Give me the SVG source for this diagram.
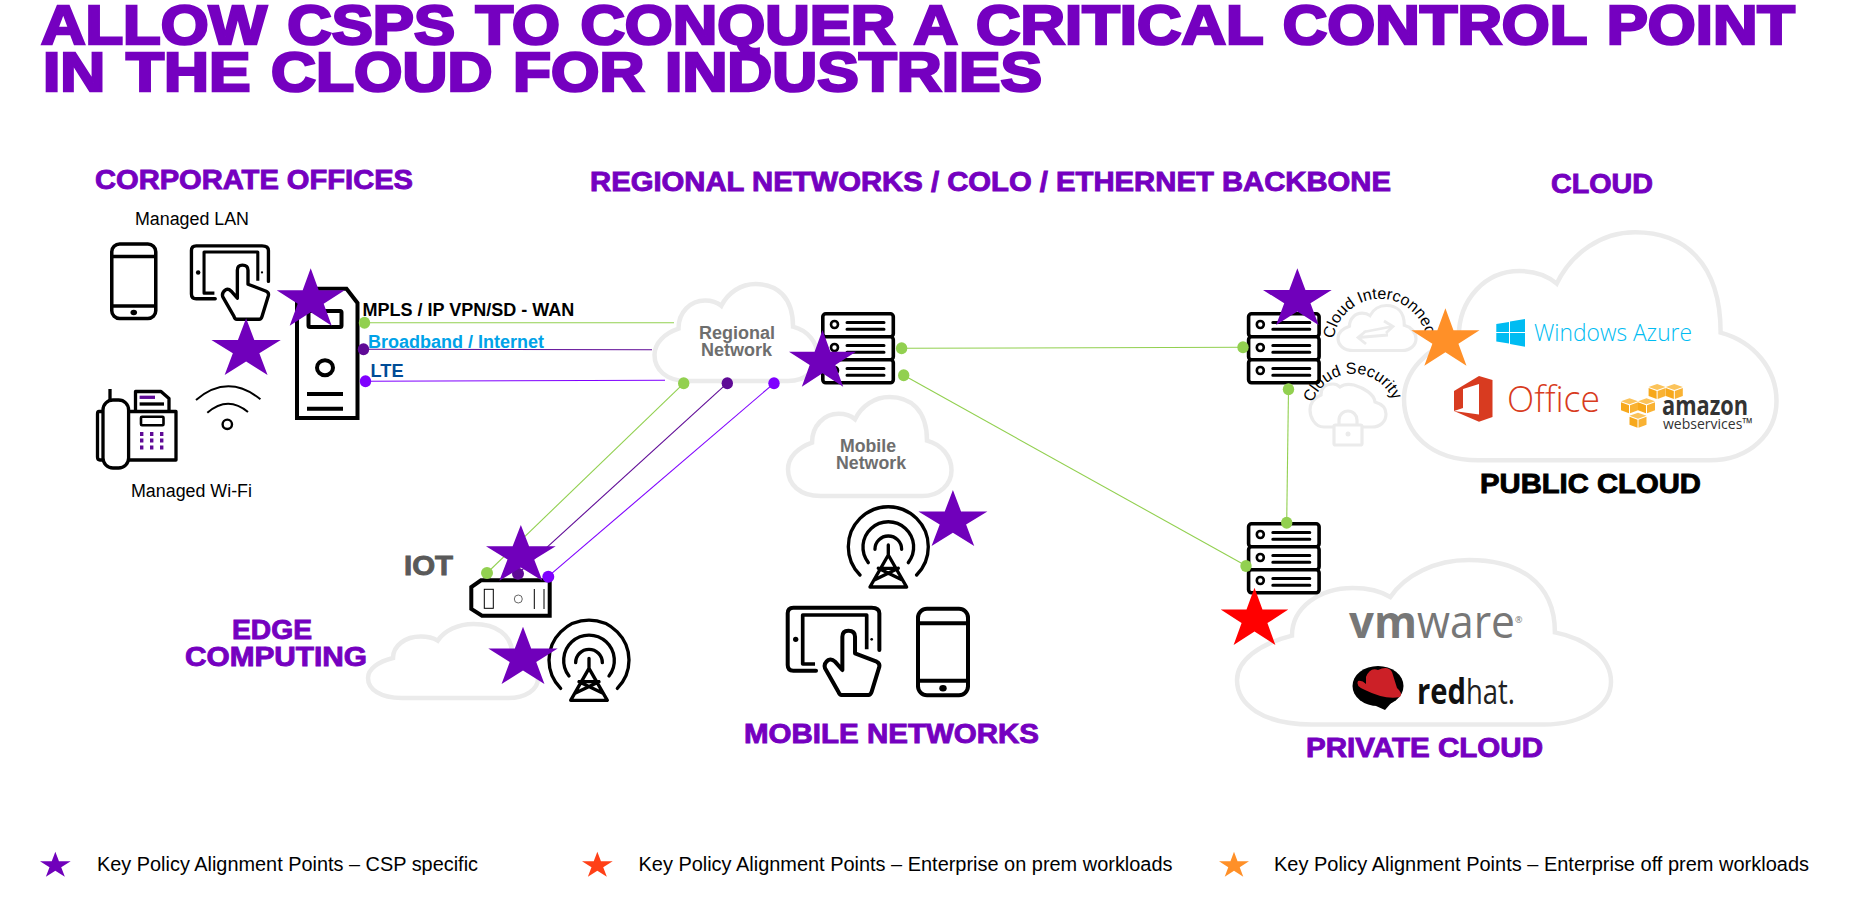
<svg xmlns="http://www.w3.org/2000/svg" width="1876" height="901" viewBox="0 0 1876 901">
<style>
text{font-family:"Liberation Sans",Arial,sans-serif}
.t{font-weight:bold;font-size:55px;fill:#7500c0;stroke:#7500c0;stroke-width:2.6;word-spacing:3px}
.h{font-weight:bold;font-size:27px;fill:#7500c0;stroke:#7500c0;stroke-width:.9}
.k{fill:#000;stroke:#000}
.n{font-size:18px;fill:#000}
.b{font-weight:bold;font-size:18px}
.g{font-weight:bold;font-size:18px;fill:#6e6e6e}
.l{font-size:19.5px;fill:#000}
.c{font-size:16px;fill:#000}
.cl{fill:none;stroke:#ebebeb;stroke-width:4.5}
.cs{fill:none;stroke:#ebebeb;stroke-width:3.2}
.dot-g{fill:#92d050}.dot-d{fill:#5f0a96}.dot-v{fill:#7f00ff}
.ln-g{stroke:#92d050;stroke-width:1.1;fill:none}.ln-d{stroke:#5f0a96;stroke-width:1.1;fill:none}.ln-v{stroke:#7f00ff;stroke-width:1.1;fill:none}
.s-p{fill:#7000bb}.s-r{fill:#ff0000}.s-o{fill:#ff9028}
.logo{font-family:"Open Sans","Liberation Sans",sans-serif}
.thin{font-weight:300}
</style>
<defs>
<polygon id="star" points="50,0 61.8,38.2 100,38.2 69.1,61.8 80.9,100 50,76.4 19.1,100 30.9,61.8 0,38.2 38.2,38.2"/>
<path id="cloud" vector-effect="non-scaling-stroke" d="M200 1000C70 1000 0 880 0 730C0 610 60 510 147 460C147 290 220 170 310 170C350 170 385 190 410 225C450 90 530 0 620 0C750 0 850 130 850 440C940 480 1000 600 1000 740C1000 880 930 1000 820 1000Z"/>
<g id="srv">
<rect x="1.8" y="1.8" width="70.5" height="23" rx="3" fill="#fff" stroke="#000" stroke-width="3.6"/>
<rect x="1.8" y="24.8" width="70.5" height="23" rx="3" fill="#fff" stroke="#000" stroke-width="3.6"/>
<rect x="1.8" y="47.8" width="70.5" height="23" rx="3" fill="#fff" stroke="#000" stroke-width="3.6"/>
<g fill="#fff" stroke="#000" stroke-width="2.6"><circle cx="13.5" cy="12.5" r="3.5"/><circle cx="13.5" cy="35.5" r="3.5"/><circle cx="13.5" cy="58.5" r="3.5"/></g>
<path d="M26 10.5H63M26 17.3H63M26 33.5H63M26 40.3H63M26 56.5H63M26 63.3H63" stroke="#000" stroke-width="3" stroke-linecap="round" fill="none"/>
</g>
<g id="phone">
<rect x="2" y="2" width="50" height="86.6" rx="9" fill="#fff" stroke="#000" stroke-width="4"/>
<path d="M2 16.5H52M2 74H52" stroke="#000" stroke-width="4"/>
<ellipse cx="27" cy="81.5" rx="3.7" ry="3.2"/>
</g>
<g id="tablet" fill="none" stroke="#000" stroke-width="12" stroke-linecap="round" stroke-linejoin="round">
<path d="M278 130V20Q278 3 255 3H20Q3 3 3 20V175Q3 192 20 192H88"/>
<path d="M240 128V25H48V172H85" stroke-linecap="butt" stroke-width="11"/>
<circle cx="27" cy="98" r="8" fill="#000" stroke="none"/>
<circle cx="255" cy="98" r="4" fill="#000" stroke="none"/>
<path d="M167 190V90Q167 72 185 72Q205 72 205 90V140L270 165Q280 170 278 180L255 255Q252 265 245 265H165Q158 265 155 255L115 185Q110 170 125 160Q135 155 145 165Z" fill="#fff"/>
</g>
<g id="tower" fill="none" stroke="#000" stroke-width="10" stroke-linecap="round" stroke-linejoin="round" transform="scale(.3333)">
<path d="M-85 80A120 120 0 1 1 85 80"/>
<path d="M-60 43A76 76 0 1 1 60 43"/>
<path d="M-40 3A40 40 0 1 1 40 3"/>
<path d="M0-10V20M-55 116L0 20L55 116ZM-30 60H30M-42 95L30 60M42 95L-30 60"/>
</g>
<g id="cube"><polygon points="8.5,0 17,3 8.5,6 0,3" fill="#fbc35a"/><polygon points="0,4 8,7 8,15 0,12" fill="#f7a81b"/><polygon points="9,7 17,4 17,12 9,15" fill="#f9b233"/></g>
</defs>
<rect width="1876" height="901" fill="#fff"/>

<g id="titles">
<text class="t" x="41" y="43.7" textLength="1754" lengthAdjust="spacingAndGlyphs">ALLOW CSPS TO CONQUER A CRITICAL CONTROL POINT</text>
<text class="t" x="43" y="90.7" textLength="999" lengthAdjust="spacingAndGlyphs">IN THE CLOUD FOR INDUSTRIES</text>
<text class="h" x="95" y="188.7" textLength="318" lengthAdjust="spacingAndGlyphs">CORPORATE OFFICES</text>
<text class="h" x="590" y="190.7" textLength="801" lengthAdjust="spacingAndGlyphs">REGIONAL NETWORKS / COLO / ETHERNET BACKBONE</text>
<text class="h" x="1551" y="193" textLength="102" lengthAdjust="spacingAndGlyphs">CLOUD</text>
<text class="h k" x="1480" y="493.3" textLength="221" lengthAdjust="spacingAndGlyphs">PUBLIC CLOUD</text>
<text class="h" x="1306" y="756.7" textLength="237" lengthAdjust="spacingAndGlyphs">PRIVATE CLOUD</text>
<text class="h" x="744" y="743" textLength="295" lengthAdjust="spacingAndGlyphs">MOBILE NETWORKS</text>
<text class="h" x="232" y="639" textLength="80" lengthAdjust="spacingAndGlyphs">EDGE</text>
<text class="h" x="185" y="665.7" textLength="182" lengthAdjust="spacingAndGlyphs">COMPUTING</text>
</g>

<g id="connectors">
<path class="ln-g" d="M365 322.7H674"/>
<path class="ln-d" d="M363 349.3L652 349.7"/>
<path class="ln-v" d="M365 381.3L665 380.3"/>
<path class="ln-g" d="M683.7 383.3L487 573"/>
<path class="ln-d" d="M727 383.3L518 573.7"/>
<path class="ln-v" d="M774 383.3L548 576.7"/>
<path class="ln-g" d="M901.6 348.3L1243 347.3"/>
<path class="ln-g" d="M903.7 375.3L1246.5 566"/>
<path class="ln-g" d="M1288.5 389.3L1286.7 522.7"/>
</g>

<g id="cloud-regional"><use href="#cloud" class="cl" transform="translate(654.5 284) scale(.163 .097)"/>
<text class="g" x="699" y="339" textLength="76" lengthAdjust="spacingAndGlyphs">Regional</text>
<text class="g" x="701" y="356" textLength="71" lengthAdjust="spacingAndGlyphs">Network</text></g>
<g id="cloud-mobile"><use href="#cloud" class="cl" transform="translate(788 397) scale(.1635 .099)"/>
<text class="g" x="840" y="451.7" textLength="56" lengthAdjust="spacingAndGlyphs">Mobile</text>
<text class="g" x="836" y="469" textLength="70" lengthAdjust="spacingAndGlyphs">Network</text></g>
<g id="cloud-edge"><use href="#cloud" class="cl" transform="translate(368 624) scale(.17 .074)"/></g>

<g id="cloud-public"><use href="#cloud" class="cl" transform="translate(1404 232.3) scale(.3725 .228)"/>
<polygon fill="#00bcf2" points="1496.3,324 1509,322 1509,332 1496.3,332"/>
<polygon fill="#00bcf2" points="1510,321.5 1525,319 1525,332 1510,332"/>
<polygon fill="#00bcf2" points="1496.3,333 1509,333 1509,343.5 1496.3,341.5"/>
<polygon fill="#00bcf2" points="1510,333 1525,333 1525,346.7 1510,344"/>
<text class="logo thin" x="1534" y="340.7" font-size="23" fill="#00bcf2" textLength="158" lengthAdjust="spacingAndGlyphs">Windows Azure</text>
<polygon fill="#d83b20" points="1454,391 1479,376 1492.5,380 1492.5,417 1479,421.7 1454,411"/>
<polygon fill="#fff" points="1479,384 1463,389 1463,408 1454,411 1479,414.5"/>
<text class="logo thin" x="1507" y="411.7" font-size="37" fill="#d83b20" textLength="93" lengthAdjust="spacingAndGlyphs">Office</text>
<use href="#cube" x="1648.6" y="384"/><use href="#cube" x="1665.8" y="384"/><use href="#cube" x="1621" y="398.3"/><use href="#cube" x="1638" y="398.3"/><use href="#cube" x="1629.5" y="412.7"/>
<text class="logo" x="1662" y="415" font-size="27" font-weight="bold" fill="#333" textLength="86" lengthAdjust="spacingAndGlyphs">amazon</text>
<text class="logo" x="1663" y="429.3" font-size="15" fill="#333" textLength="90" lengthAdjust="spacingAndGlyphs">webservices™</text>
</g>

<g id="cloud-private"><use href="#cloud" class="cl" transform="translate(1237 560) scale(.374 .1645)"/>
<text class="logo" x="1349" y="638.3" font-size="45" font-weight="bold" fill="#777" textLength="68" lengthAdjust="spacingAndGlyphs">vm</text>
<text class="logo" x="1417" y="638.3" font-size="45" fill="#777" textLength="98" lengthAdjust="spacingAndGlyphs">ware</text>
<text class="logo" x="1515" y="623" font-size="9" fill="#777">®</text>
<ellipse cx="1378" cy="686" rx="25.5" ry="20"/>
<path d="M1372 700L1392 702L1385 710L1376 706Z"/>
<path fill="#cc2027" d="M1366 677Q1370 667 1378 670Q1388 665 1392 672L1397 688Q1403 693 1400 697Q1385 700 1365 690Q1355 686 1358 681Q1362 680 1366 684Z"/>
<text class="logo" x="1417" y="704" font-size="35" font-weight="bold" fill="#111" textLength="49" lengthAdjust="spacingAndGlyphs">red</text>
<text class="logo" x="1466" y="704" font-size="35" fill="#222" textLength="49" lengthAdjust="spacingAndGlyphs">hat.</text>
</g>

<g id="corporate-offices">
<text class="n" x="135" y="225" textLength="114" lengthAdjust="spacingAndGlyphs">Managed LAN</text>
<text class="n" x="131" y="496.7" textLength="121" lengthAdjust="spacingAndGlyphs">Managed Wi-Fi</text>
<use href="#phone" transform="translate(110 242.3) scale(.88 .86)"/>
<use href="#tablet" transform="translate(190.6 245) scale(.28)"/>
<g id="fax" fill="none" stroke="#000" stroke-width="3.3" stroke-linejoin="round">
<path d="M110 389V402"/>
<path d="M135.5 410V391.5H161L169 398.5V410"/>
<path d="M139.6 404H164"/>
<path d="M139.6 397.3H155" stroke="#5f0a96"/>
<path d="M128 411.5H176V460H128"/>
<path d="M103 411.5H99Q97.5 411.5 97.5 414V457Q97.5 460 100 460H103"/>
<rect x="103" y="400" width="25.6" height="68" rx="10" fill="#fff"/>
<rect x="141" y="416.7" width="22.5" height="8.6" rx="1" stroke-width="2.6"/>
<g fill="#5f0a96" stroke="none"><rect x="140" y="432" width="3.4" height="4"/><rect x="150" y="432" width="3.4" height="4"/><rect x="160" y="432" width="3.4" height="4"/><rect x="140" y="438.5" width="3.4" height="4"/><rect x="150" y="438.5" width="3.4" height="4"/><rect x="160" y="438.5" width="3.4" height="4"/><rect x="140" y="445.5" width="3.4" height="4"/><rect x="150" y="445.5" width="3.4" height="4"/><rect x="160" y="445.5" width="3.4" height="4"/></g>
</g>
<g id="wifi" fill="none" stroke="#000" stroke-width="2">
<path d="M196 400Q227.8 373 260.4 399.3"/>
<path d="M207.3 412.7Q227.8 395 248 412"/>
<circle cx="227.3" cy="424.3" r="4.7" stroke-width="2.4"/>
</g>
<g id="office-server" fill="none" stroke="#000" stroke-width="4">
<path d="M297 303L310 288.7H346.5L357.5 303V418H297Z" fill="#fff"/>
<rect x="308.5" y="311" width="33" height="16" rx="1.5"/>
<ellipse cx="325" cy="367.7" rx="8" ry="7.5"/>
<path d="M307 394H343M307 408.7H343"/>
</g>
</g>

<g id="wan-labels">
<text class="b" x="362.4" y="316" fill="#000" textLength="212" lengthAdjust="spacingAndGlyphs">MPLS / IP VPN/SD - WAN</text>
<text class="b" x="368" y="348" fill="#00a2e8" textLength="176" lengthAdjust="spacingAndGlyphs">Broadband / Internet</text>
<text class="b" x="370.6" y="376.7" fill="#004c97" textLength="33" lengthAdjust="spacingAndGlyphs">LTE</text>
</g>

<g id="server-regional"><use href="#srv" x="821" y="312"/></g>
<g id="server-cloud"><use href="#srv" x="1246.8" y="312"/></g>
<g id="server-private"><use href="#srv" x="1246.8" y="522"/></g>

<g id="cloud-interconnect">
<use href="#cloud" class="cs" transform="translate(1338 305.5) scale(.078 .045)"/>
<path d="M1363.5 332L1392 326.5M1384 321L1393 326.5L1386 333M1388 335L1358.5 337.5M1366 331L1358 337.5L1366 344" fill="none" stroke="#ebebeb" stroke-width="2.8"/>
<path id="arc1" d="M1333.5 339A47 47 0 0 1 1427 345" fill="none"/>
<text class="c"><textPath href="#arc1">Cloud Interconnect</textPath></text>
</g>
<g id="cloud-security">
<path class="cs" d="M1333 427H1324C1314 427 1310 416 1310 410C1310 403 1314 398 1321 395C1321 388 1325 384 1333 384C1336 384 1338 385 1340 387C1344 384 1349 384 1354 385C1364 388 1374 394 1375 402C1382 404 1386 408 1386 414C1386 422 1380 427 1372 427H1362"/>
<rect class="cs" x="1334" y="425" width="28" height="20" rx="1.5"/>
<path class="cs" d="M1339 425V420A9 9 0 0 1 1357 420V425"/>
<circle cx="1348" cy="434" r="2.5" fill="#ebebeb"/>
<path id="arc2" d="M1312.5 403A43 43 0 0 1 1396 412" fill="none"/>
<text class="c"><textPath href="#arc2">Cloud Security</textPath></text>
</g>

<g id="iot">
<text class="h" style="fill:#595959;stroke:#595959" x="404" y="575" textLength="49" lengthAdjust="spacingAndGlyphs">IOT</text>
<path d="M481 580.3H549.7V615.7H482L471.3 609V587Z" fill="#fff" stroke="#000" stroke-width="4"/>
<rect x="484.3" y="589.3" width="9" height="19" fill="none" stroke="#000" stroke-width="1"/>
<circle cx="518.3" cy="599" r="4" fill="none" stroke="#666" stroke-width="1"/>
<path d="M534.3 589V609M544 589V609" stroke="#000" stroke-width="1"/>
</g>
<g id="edge-tower"><use href="#tower" transform="translate(589 661.7)"/></g>
<g id="mobile-devices">
<use href="#tower" transform="translate(888.3 548.3)"/>
<use href="#tablet" transform="translate(786.7 606.7) scale(.3333)"/>
<use href="#phone" transform="translate(916 606.7)"/>
</g>

<g id="connector-dots">
<ellipse class="dot-g" cx="364.5" cy="322.7" rx="5.7" ry="6"/>
<ellipse class="dot-d" cx="363.5" cy="349.3" rx="5.7" ry="6"/>
<ellipse class="dot-v" cx="365.5" cy="381.3" rx="5.7" ry="6"/>
<ellipse class="dot-g" cx="683.7" cy="383.3" rx="5.7" ry="6"/>
<ellipse class="dot-d" cx="727.3" cy="383.3" rx="5.7" ry="6"/>
<ellipse class="dot-v" cx="774" cy="383.3" rx="5.7" ry="6"/>
<ellipse class="dot-g" cx="901.6" cy="348.3" rx="5.7" ry="6"/>
<ellipse class="dot-g" cx="903.7" cy="375.3" rx="5.7" ry="6"/>
<ellipse class="dot-g" cx="1243" cy="347.3" rx="5.7" ry="6"/>
<ellipse class="dot-g" cx="1288.5" cy="389.3" rx="5.7" ry="6"/>
<ellipse class="dot-g" cx="1286.7" cy="522.7" rx="5.7" ry="6"/>
<ellipse class="dot-g" cx="1246" cy="566" rx="5.7" ry="6"/>
<circle class="dot-g" cx="487" cy="573" r="6"/>
<circle class="dot-d" cx="518" cy="573.7" r="6"/>
<circle class="dot-v" cx="548.3" cy="576.7" r="6"/>
</g>

<g id="stars">
<use href="#star" class="s-p" transform="translate(276.7 268.3) scale(.68 .574)"/>
<use href="#star" class="s-p" transform="translate(211.4 318.3) scale(.694 .567)"/>
<use href="#star" class="s-p" transform="translate(789 330) scale(.67 .567)"/>
<use href="#star" class="s-p" transform="translate(918.4 490) scale(.69 .56)"/>
<use href="#star" class="s-p" transform="translate(1263 268.3) scale(.687 .567)"/>
<use href="#star" class="s-o" transform="translate(1411.3 308.3) scale(.682 .574)"/>
<use href="#star" class="s-r" transform="translate(1220.7 587.7) scale(.676 .573)"/>
<use href="#star" class="s-p" transform="translate(486 525) scale(.697 .557)"/>
<use href="#star" class="s-p" transform="translate(488.3 626.7) scale(.694 .573)"/>
</g>

<g id="legend">
<use href="#star" class="s-p" transform="translate(40 851.7) scale(.307 .25)"/>
<text class="l" x="97" y="870.7" textLength="381" lengthAdjust="spacingAndGlyphs">Key Policy Alignment Points – CSP specific</text>
<use href="#star" fill="#ff4017" transform="translate(582 851.7) scale(.307 .25)"/>
<text class="l" x="638.5" y="870.7" textLength="534" lengthAdjust="spacingAndGlyphs">Key Policy Alignment Points – Enterprise on prem workloads</text>
<use href="#star" class="s-o" transform="translate(1219 851.7) scale(.3 .25)"/>
<text class="l" x="1274" y="870.7" textLength="535" lengthAdjust="spacingAndGlyphs">Key Policy Alignment Points – Enterprise off prem workloads</text>
</g>
</svg>
